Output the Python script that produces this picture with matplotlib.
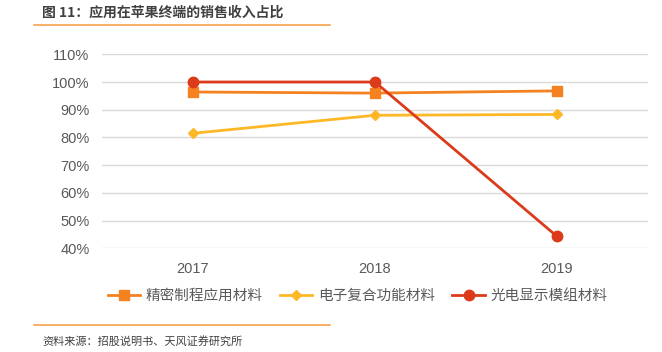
import matplotlib
matplotlib.use("Agg")
import matplotlib.pyplot as plt
from matplotlib.lines import Line2D

plt.rcParams['font.family'] = ['Noto Sans CJK SC', 'DejaVu Sans']

years = ['2017', '2018', '2019']
precision = [96.4, 96.0, 96.8]
electronic = [81.5, 88.0, 88.3]
optoelec = [100.0, 100.0, 44.3]
series_names = ['精密制程应用材料', '电子复合功能材料', '光电显示模组材料']
yticks = [40, 50, 60, 70, 80, 90, 100, 110]

colors = ['#F58220', '#FDB827', '#DC3B1A']

fig = plt.figure(figsize=(6.62, 3.52), dpi=100)
ax = fig.add_axes([102/662, 1-248.3/352, 546/662, (248.3-54.3)/352])

x = [i + 0.5 for i in range(len(years))]
ax.plot(x, precision, color=colors[0], marker='s', markersize=7, lw=2, label=series_names[0], zorder=3)
ax.plot(x, electronic, color=colors[1], marker='D', markersize=5.5, lw=2, label=series_names[1], zorder=3)
ax.plot(x, optoelec, color=colors[2], marker='o', markersize=7.5, lw=2, label=series_names[2], zorder=4)

ax.set_xlim(0, 3)
ax.set_ylim(40, 110)
ax.set_yticks(yticks)
ax.set_yticklabels([f'{v}%' for v in yticks], family=['Liberation Sans', 'DejaVu Sans'])
ax.set_xticks(x)
ax.set_xticklabels(years, family=['Liberation Sans', 'DejaVu Sans'])
ax.grid(axis='y', color='#D9D9D9', lw=1)
ax.set_axisbelow(True)
for s in ax.spines.values():
    s.set_visible(False)
ax.tick_params(axis='both', length=0, labelsize=10.5, colors='#595959')
ax.tick_params(axis='y', pad=9)
ax.tick_params(axis='x', pad=10)

handles, labels = ax.get_legend_handles_labels()
fig.legend(handles, labels, loc='center', bbox_to_anchor=(357.5/662, 1-296/352), ncol=3,
           frameon=False, fontsize=10.5, handlelength=2.2, columnspacing=1.2, handletextpad=0.4,
           labelcolor='#595959')

fig.text(42/662, 1-13/352, '图 11：应用在苹果终端的销售收入占比', fontsize=10, fontweight='bold',
         color='#404040', va='center', ha='left')
fig.add_artist(Line2D([34/662, 330/662], [1-25/352, 1-25/352], color='#F7A24C', lw=1.2))
fig.add_artist(Line2D([34/662, 330/662], [1-325/352, 1-325/352], color='#F7A24C', lw=1.2))
fig.text(42/662, 1-341/352, '资料来源：招股说明书、天风证券研究所', fontsize=8, color='#404040',
         va='center', ha='left')

fig.savefig('out.png', dpi=100)
